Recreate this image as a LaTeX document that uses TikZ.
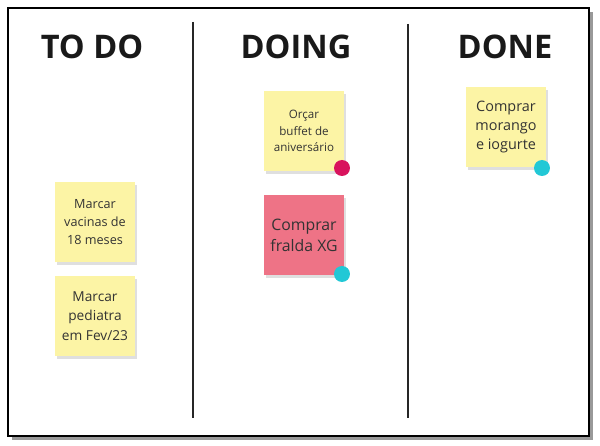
\documentclass[tikz,border=0pt]{standalone}
\usepackage{fontspec}
\setmainfont{Open Sans}
\usetikzlibrary{shadows}
\definecolor{noteyellow}{HTML}{FCF4A5}
\definecolor{notepink}{HTML}{EE7386}
\definecolor{dotmagenta}{HTML}{D8135D}
\definecolor{dotcyan}{HTML}{22C8D6}
\begin{document}
\begin{tikzpicture}[x=0.02cm, y=-0.02cm,
        board/.style={draw=black, line width=1.2pt},
        divider/.style={draw=black!85, line width=1.1pt},
        header/.style={font=\fontsize{18.5}{20}\selectfont\bfseries, text=black!90},
        note/.style={minimum width=1.62cm, minimum height=1.6cm, align=center, text=black!80,
            inner sep=1pt, fill=noteyellow,
            drop shadow={shadow xshift=0.04cm, shadow yshift=-0.06cm, opacity=0.25}},
        dot/.style={circle, minimum size=0.32cm, inner sep=0pt}
    ]
        \useasboundingbox (0,0) rectangle (600,446);
        \fill[black!40] (12,12) rectangle (593,440);
        \filldraw[board, fill=white] (8,8) rectangle (589,436);

        \node[header] (todo) at (92,47) {TO DO};
        \node[header] (doing) at (296,47) {DOING};
        \node[header] (done) at (505,47) {DONE};

        \coordinate (d1top) at (193,22);
        \coordinate (d1bot) at (193,418);
        \coordinate (d2top) at (408,24);
        \coordinate (d2bot) at (408,418);
        \draw[divider] (d1top) -- (d1bot);
        \draw[divider] (d2top) -- (d2bot);

        \node[note, font=\fontsize{7.2}{10}\selectfont] (vacinas) at (95,222) {Marcar\\vacinas de\\18 meses};
        \node[note, font=\fontsize{7.8}{11}\selectfont] (pediatra) at (95,316) {Marcar\\pediatra\\em Fev/23};

        \node[note, font=\fontsize{6.6}{9.5}\selectfont] (orcar) at (304,131) {Orçar\\buffet de\\aniversário};
        \node[dot, fill=dotmagenta] (orcardot) at (342,168) {};
        \node[note, fill=notepink, font=\fontsize{9}{12}\selectfont] (fralda) at (304,235) {Comprar\\fralda XG};
        \node[dot, fill=dotcyan] (fraldadot) at (342,274) {};

        \node[note, font=\fontsize{8.2}{11}\selectfont] (morango) at (506,127) {Comprar\\morango\\e iogurte};
        \node[dot, fill=dotcyan] (morangodot) at (542,168) {};
    \end{tikzpicture}
\end{document}
